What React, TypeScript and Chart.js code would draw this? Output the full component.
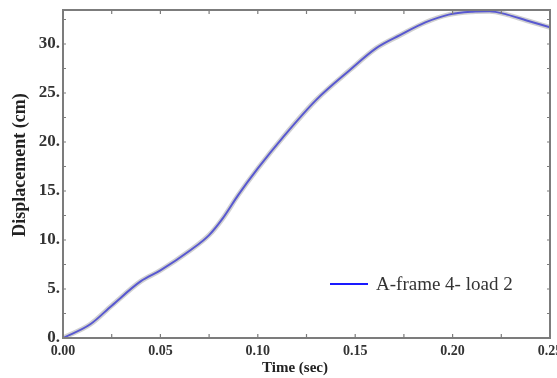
import React, { useEffect, useRef } from 'react';
import { Chart, registerables } from 'chart.js';
Chart.register(...registerables);

const timeSec = [0, 0.014, 0.025, 0.04, 0.05, 0.065, 0.075, 0.082, 0.09, 0.1, 0.113, 0.13, 0.147, 0.161, 0.173, 0.186, 0.198, 0.21, 0.219, 0.228, 0.238, 0.25];
const displacementCm = [0, 1.4, 3.3, 5.8, 6.9, 8.9, 10.5, 12.2, 14.6, 17.3, 20.5, 24.3, 27.3, 29.6, 30.9, 32.2, 33.0, 33.3, 33.35, 33.0, 32.4, 31.7];
const xTickValues = [0, 0.05, 0.1, 0.15, 0.2, 0.25];
const yTickValues = [0, 5, 10, 15, 20, 25, 30];
const seriesLabel = 'A-frame 4- load 2';
const xTitle = 'Time (sec)';
const yTitle = 'Displacement (cm)';

const SERIF = '"Liberation Serif", "Times New Roman", serif';

const framePlugin = {
  id: 'frameTicks',
  afterDatasetsDraw(chart: any) {
    const { ctx, chartArea: a, scales } = chart;
    const xs = scales.x;
    const ys = scales.y;
    ctx.save();
    ctx.strokeStyle = '#7c7c7c';
    ctx.lineWidth = 2;
    ctx.strokeRect(a.left, a.top, a.right - a.left, a.bottom - a.top);
    ctx.lineWidth = 1.2;
    ctx.beginPath();
    for (let i = 0; i <= 10; i++) {
      const px = xs.getPixelForValue(i * 0.025);
      ctx.moveTo(px, a.bottom);
      ctx.lineTo(px, a.bottom - 4);
      ctx.moveTo(px, a.top);
      ctx.lineTo(px, a.top + 4);
    }
    for (let i = 0; i <= 13; i++) {
      const py = ys.getPixelForValue(i * 2.5);
      ctx.moveTo(a.left, py);
      ctx.lineTo(a.left + 3, py);
      ctx.moveTo(a.right, py);
      ctx.lineTo(a.right - 3, py);
    }
    ctx.stroke();
    ctx.restore();
  },
  afterDraw(chart: any) {
    const { ctx } = chart;
    ctx.save();
    ctx.fillStyle = '#222';
    ctx.font = `bold 15px ${SERIF}`;
    ctx.textAlign = 'center';
    ctx.textBaseline = 'middle';
    ctx.fillText(xTitle, 295, 368);
    ctx.save();
    ctx.translate(20, 165);
    ctx.rotate(-Math.PI / 2);
    ctx.font = `bold 18px ${SERIF}`;
    ctx.fillText(yTitle, 0, 0);
    ctx.restore();
    // legend
    ctx.strokeStyle = '#1a1aff';
    ctx.lineWidth = 2;
    ctx.beginPath();
    ctx.moveTo(330, 284);
    ctx.lineTo(368, 284);
    ctx.stroke();
    ctx.fillStyle = '#333';
    ctx.font = `19px ${SERIF}`;
    ctx.textAlign = 'left';
    ctx.fillText(seriesLabel, 376, 285);
    ctx.restore();
  },
};

export default function App() {
  const ref = useRef<HTMLCanvasElement | null>(null);
  useEffect(() => {
    if (!ref.current) return;
    const pts = timeSec.map((t, i) => ({ x: t, y: displacementCm[i] }));
    const chart = new Chart(ref.current, {
      type: 'line',
      data: {
        datasets: [
          {
            label: seriesLabel + ' halo',
            data: pts,
            borderColor: 'rgba(150,150,150,0.45)',
            borderWidth: 5,
            pointRadius: 0,
            cubicInterpolationMode: 'monotone',
            fill: false,
          },
          {
            label: seriesLabel,
            data: pts,
            borderColor: '#2626ff',
            borderWidth: 2,
            pointRadius: 0,
            cubicInterpolationMode: 'monotone',
            fill: false,
          },
        ],
      },
      options: {
        animation: false,
        responsive: false,
        maintainAspectRatio: false,
        layout: { padding: { left: 0, top: 10, right: 7, bottom: 0 } },
        plugins: { legend: { display: false }, tooltip: { enabled: false } },
        scales: {
          x: {
            type: 'linear',
            min: 0,
            max: 0.25,
            grid: { display: false, drawTicks: false },
            border: { display: false },
            afterBuildTicks: (s: any) => {
              s.ticks = xTickValues.map((v) => ({ value: v }));
            },
            afterFit: (s: any) => {
              s.height = 40;
              s.paddingLeft = 0;
              s.paddingRight = 0;
            },
            ticks: {
              padding: 5,
              maxRotation: 0,
              autoSkip: false,
              color: '#333',
              font: { family: SERIF, size: 14, weight: 'bold' },
              callback: (v: any) => Number(v).toFixed(2),
            },
          },
          y: {
            type: 'linear',
            min: 0,
            max: 33.47,
            grid: { display: false, drawTicks: false },
            border: { display: false },
            afterBuildTicks: (s: any) => {
              s.ticks = yTickValues.map((v) => ({ value: v }));
            },
            afterFit: (s: any) => {
              s.width = 63;
              s.paddingTop = 0;
              s.paddingBottom = 0;
            },
            ticks: {
              padding: 3,
              autoSkip: false,
              color: '#333',
              font: { family: SERIF, size: 17, weight: 'bold' },
              callback: (v: any) => `${v}.`,
            },
          },
        },
      },
      plugins: [framePlugin],
    });
    return () => chart.destroy();
  }, []);
  return (
    <div style={{ position: 'fixed', left: 0, top: 0, width: 557, height: 378, background: '#fff' }}>
      <canvas ref={ref} width={557} height={378} style={{ width: 557, height: 378 }} />
    </div>
  );
}
